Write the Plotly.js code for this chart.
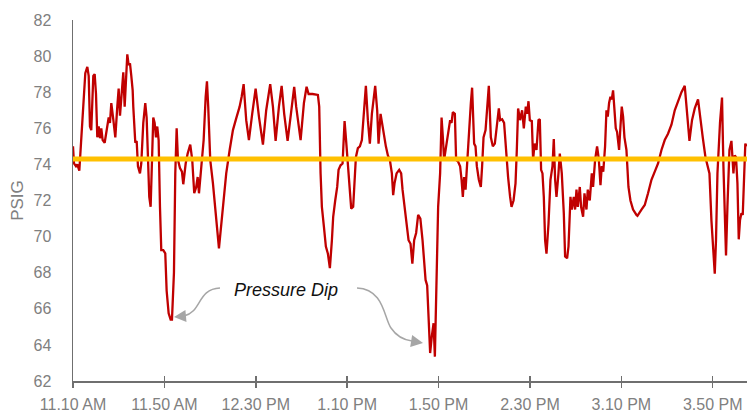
<!DOCTYPE html>
<html>
<head>
<meta charset="utf-8">
<script src="https://cdn.plot.ly/plotly-3.0.1.min.js"></script>
<style>html,body{margin:0;padding:0;background:#fff;}#chart{width:754px;height:412px;}</style>
</head>
<body>
<div id="chart"></div>
<script>
// minutes after 11:10 AM
const minutes = [0,0.44,1.31,1.88,2.76,4.51,5.38,6.26,6.87,7.44,8.0,8.88,9.49,10.06,10.63,11.24,11.81,12.38,12.99,13.87,14.74,15.62,16.19,16.76,17.63,18.51,19.38,19.99,20.56,21.44,22.01,22.62,23.19,23.76,24.37,24.94,25.51,26.12,26.38,27.26,27.87,28.44,29.31,29.88,30.76,31.63,32.24,32.81,33.38,33.99,34.56,35.13,35.74,36.31,36.88,37.49,38.06,38.63,39.51,40.38,40.99,41.87,42.74,43.31,44.19,44.76,45.37,45.94,46.81,47.69,48.26,
49.31,50.18,51.32,52.19,53.07,53.94,54.56,55.13,56.31,57.18,58.06,58.63,59.19,60.07,61.25,62.13,63.0,63.88,64.75,65.63,67.07,68.56,70.0,71.44,72.93,73.81,74.68,75.82,77.0,78.44,79.93,81.38,83.13,84.57,86.32,87.5,88.68,90.13,91.31,92.44,93.93,95.38,96.82,97.69,99.62,101.06,102.24,103.12,104.87,107.19,107.76,108.37,108.94,109.81,110.69,111.56,112.44,113.31,113.88,114.76,115.63,116.24,117.12,117.99,118.87,119.44,120.31,121.19,121.76,122.63,123.24,123.81,124.69,125.56,126.44,127.31,128.19,129.06,129.94,130.81,131.69,132.26,133.13,133.74,134.62,135.19,136.06,136.94,137.81,138.69,139.56,140.13,140.74,141.62,142.76,143.64,144.24,145.12,146.0,146.87,147.74,148.53,149.32,150.19,151.07,152.03,152.99,153.56,154.31,155.01,155.75,156.32,157.06,157.81,158.38,158.94,159.82,160.69,161.31,161.88,162.44,163.32,164.19,165.07,165.68,166.25,167.13,167.69,168.57,169.44,170.06,170.63,171.19,171.81,172.68,173.56,174.13,174.69,175.57,176.18,176.75,177.63,178.5,179.07,179.68,180.56,181.43,182.0,182.88,183.75,184.63,185.5,186.38,186.94,187.82,188.69,189.57,190.44,191.32,191.93,192.81,193.68,194.25,194.82,195.69,196.57,197.31,197.75,198.19,198.76,199.37,199.94,200.81,201.38,202.0,202.87,203.74,204.31,204.88,205.49,206.06,206.63,207.24,208.12,208.99,209.87,210.44,211.01,211.62,212.49,213.06,213.94,214.81,215.38,216.26,216.87,217.74,218.31,219.19,219.76,220.37,220.94,221.81,222.38,223.26,223.87,224.74,225.31,226.19,227.06,227.63,228.51,229.38,230.13,230.86,231.44,232.09,232.88,233.49,234.06,234.63,235.24,235.81,236.38,237.0,237.56,238.13,239.01,239.62,240.19,240.76,241.37,242.24,243.12,243.99,245.13,246.62,247.06,248.81,250.25,251.69,253.18,254.63,256.07,257.56,259.0,260.44,261.93,263.38,264.82,266.31,267.75,268.63,269.81,270.94,272.13,273.57,274.44,275.63,276.81,277.69,278.56,279.43,280.31,280.88,281.44,282.06,283.19,284.07,284.68,285.25,285.82,286.44,287.31,288.19,288.75,289.06,289.63,290.19,290.81,291.38,291.94,292.56,293.13,293.69,294.26,294.83];

const psig = [75.0,74.06,73.9,74.0,73.65,77.0,79.05,79.4,78.9,76.1,75.9,78.9,79.0,77.9,75.5,76.1,75.45,76.0,75.35,75.2,75.9,76.6,76.3,77.4,76.5,75.5,77.2,78.2,76.7,78.3,79.1,77.2,79.2,80.1,79.5,79.6,78.9,78.1,77.2,75.2,75.3,73.9,73.5,74.05,76.3,77.4,76.6,73.5,72.2,71.65,75.0,76.6,76.3,75.5,76.1,75.35,71.65,69.25,69.25,69.07,67.0,65.75,65.4,65.4,68.0,73.5,76.0,74.25,73.8,73.6,72.9,
74.05,74.6,75.1,74.25,72.4,72.75,73.3,72.4,73.9,75.35,77.75,78.6,77.2,74.25,72.95,71.5,70.55,69.35,70.55,71.85,73.5,74.8,75.9,76.55,77.2,77.75,78.45,76.45,75.35,76.8,78.2,76.65,75.1,77.0,78.45,77.2,75.3,77.2,78.35,76.8,75.3,76.8,78.3,77.2,75.35,77.4,78.3,77.9,77.9,77.85,77.2,73.5,71.65,70.55,69.45,69.05,68.25,69.8,71.1,72.0,72.75,73.7,73.95,74.05,76.4,75.5,73.9,72.75,71.55,71.65,73.1,74.4,74.9,75.0,75.35,77.2,78.35,76.45,75.15,76.8,77.75,78.35,77.0,75.15,76.8,76.3,75.5,75.0,74.5,74.25,73.5,72.3,72.95,73.5,73.7,73.5,72.6,71.65,70.55,69.8,69.6,68.5,69.8,70.2,71.2,71.0,69.8,68.9,67.6,67.3,65.55,63.55,64.5,65.2,63.35,66.1,71.65,73.5,76.6,75.5,74.25,75.0,75.7,76.45,76.3,76.9,76.8,74.25,74.15,73.9,73.15,72.2,73.3,72.6,74.4,76.65,77.4,78.25,75.15,75.0,73.9,73.15,72.75,73.9,75.5,75.9,77.4,78.35,75.5,75.0,75.15,76.3,77.1,76.45,76.5,76.3,74.6,73.3,72.2,71.65,72.0,72.95,74.8,77.1,76.45,77.0,76.0,76.9,77.2,76.8,77.5,76.45,76.4,74.25,75.15,74.8,76.45,76.5,73.7,73.5,72.2,69.8,69.05,70.7,73.15,73.9,75.4,73.15,72.2,73.5,74.6,73.5,71.3,68.9,68.8,69.45,72.2,71.5,72.2,71.5,72.6,71.65,72.75,71.65,71.1,72.4,71.5,72.6,72.0,73.5,72.75,74.25,75.0,74.3,72.85,73.9,73.6,75.0,77.0,76.65,77.4,77.75,77.6,78.1,77.2,76.0,75.8,74.8,76.1,77.2,76.65,75.5,74.8,72.75,72.0,71.5,71.2,71.15,71.5,71.75,72.4,73.15,73.6,74.05,74.8,75.35,75.7,76.2,77.0,77.55,78.0,78.35,77.0,75.3,76.45,77.1,77.6,76.65,75.5,74.4,73.9,73.5,70.9,69.05,67.95,69.8,73.5,76.3,77.7,73.9,71.3,68.95,71.65,74.8,75.3,74.4,73.5,74.5,74.4,72.95,69.85,70.9,71.3,71.2,73.5,75.15,75.0];

const thresholdPsig = 74.3;
const tickMinutes = [0, 40, 80, 120, 160, 200, 240, 280];
const tickLabels = ['11.10 AM','11.50 AM','12.30 PM','1.10 PM','1.50 PM','2.30 PM','3.10 PM','3.50 PM'];
const axisEndMinutes = 295;
const dipLabel = 'Pressure Dip';

function toTime(m) {
  const s = Math.round(m * 60) + (11 * 3600 + 10 * 60);
  const h = Math.floor(s / 3600), mi = Math.floor((s % 3600) / 60), se = s % 60;
  const p = n => String(n).padStart(2, '0');
  return '2024-01-01 ' + p(h) + ':' + p(mi) + ':' + p(se);
}
const times = minutes.map(toTime);
const tickVals = tickMinutes.map(toTime);

// plot area in pixels
const L = 73, R = 747, T = 20, B = 381;
const px = (x) => (x - L) / (R - L);
const py = (y) => (B - y) / (B - T);
function pathStr(cmds) {
  return cmds.map(c => {
    const out = [c[0]];
    for (let k = 1; k < c.length; k += 2) out.push(px(c[k]).toFixed(4) + ',' + py(c[k + 1]).toFixed(4));
    return out.join(' ');
  }).join(' ');
}

const gray = '#808080';
const axisGray = '#6f6f6f';
const font = "'Liberation Sans', Arial, sans-serif";

const traces = [
  {
    x: times, y: psig, type: 'scatter', mode: 'lines',
    line: { color: '#C00000', width: 2.3 },
    hoverinfo: 'skip', showlegend: false
  },
  {
    x: [times[0], toTime(axisEndMinutes)], y: [thresholdPsig, thresholdPsig],
    xaxis: 'x2', type: 'scatter', mode: 'lines',
    line: { color: '#FFC000', width: 5 },
    hoverinfo: 'skip', showlegend: false
  }
];

const arrowColor = '#a6a6a6';
const layout = {
  width: 754, height: 412,
  margin: { l: L, r: 754 - R, t: T, b: 412 - B, pad: 0 },
  paper_bgcolor: '#fff', plot_bgcolor: '#fff',
  font: { family: font, color: gray, size: 16 },
  xaxis: {
    type: 'date',
    range: [toTime(0), toTime(axisEndMinutes)],
    tickvals: tickVals, ticktext: tickLabels,
    ticks: 'outside', ticklen: 5, tickwidth: 1.5, tickcolor: axisGray,
    showline: true, linecolor: axisGray, linewidth: 1.5,
    showgrid: false, zeroline: false,
    tickfont: { family: font, size: 16, color: gray },
    ticklabelstandoff: 3,
    automargin: false, fixedrange: true
  },
  xaxis2: {
    type: 'date', overlaying: 'x', matches: 'x',
    range: [toTime(0), toTime(axisEndMinutes)],
    tickvals: tickVals, ticktext: tickLabels, showticklabels: false,
    ticks: 'inside', ticklen: 5, tickwidth: 1.5, tickcolor: axisGray,
    showline: false, showgrid: false, zeroline: false,
    side: 'bottom', anchor: 'y', automargin: false
  },
  yaxis: {
    range: [62, 82], dtick: 2, tick0: 62,
    ticks: '', showline: true, linecolor: axisGray, linewidth: 1.5,
    showgrid: false, zeroline: false,
    tickfont: { family: font, size: 16, color: gray },
    ticklabelstandoff: 17,
    title: { text: 'PSIG', font: { family: font, size: 17, color: gray }, standoff: 5 },
    automargin: false, fixedrange: true
  },
  shapes: [
    { type: 'path', xref: 'paper', yref: 'paper',
      path: pathStr([['M', 220, 288], ['C', 197, 289, 202, 312, 184, 316]]),
      line: { color: arrowColor, width: 1.5 } },
    { type: 'path', xref: 'paper', yref: 'paper',
      path: pathStr([['M', 357, 288], ['C', 384, 289, 384, 318, 391, 328], ['C', 397, 337, 404, 340, 412, 341]]),
      line: { color: arrowColor, width: 1.5 } }
  ],
  annotations: [
    { xref: 'paper', yref: 'paper', x: px(285.5), y: py(290), text: '<i>' + dipLabel + '</i>',
      showarrow: false, xanchor: 'center', yanchor: 'middle',
      font: { family: font, size: 18, color: '#111' } },
    { xref: 'paper', yref: 'paper', x: px(174), y: py(317), text: '', showarrow: true,
      axref: 'pixel', ayref: 'pixel', ax: 11, ay: -1,
      arrowhead: 2, arrowsize: 1.6, arrowwidth: 1.5, arrowcolor: arrowColor },
    { xref: 'paper', yref: 'paper', x: px(423), y: py(343), text: '', showarrow: true,
      axref: 'pixel', ayref: 'pixel', ax: -12, ay: -2,
      arrowhead: 2, arrowsize: 1.6, arrowwidth: 1.5, arrowcolor: arrowColor }
  ],
  showlegend: false
};

Plotly.newPlot('chart', traces, layout, { staticPlot: true, displayModeBar: false });
</script>
</body>
</html>
